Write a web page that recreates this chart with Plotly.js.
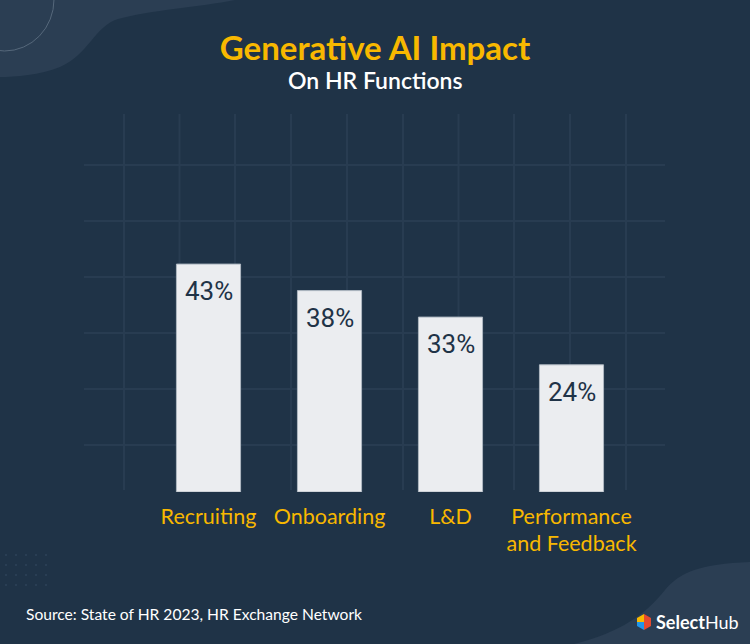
<!DOCTYPE html>
<html>
<head>
<meta charset="utf-8">
<script src="https://cdn.plot.ly/plotly-3.0.1.min.js"></script>
<style>
html,body{margin:0;padding:0;background:#1f3347;}
#chart{width:750px;height:644px;}
</style>
</head>
<body>
<div id="chart"></div>
<script>
// ---- data ----
const categories = ["Recruiting", "Onboarding", "L&D", "Performance<br>and Feedback"];
const values = [43, 38, 33, 24];
const valueLabels = ["43%", "38%", "33%", "24%"];
const titleText = "Generative AI Impact";
const subtitleText = "On HR Functions";
const sourceText = "Source: State of HR 2023, HR Exchange Network";

// ---- geometry helpers (figure pixels -> paper coords) ----
const FIG_W = 750, FIG_H = 644;
const M = {l: 148, r: 118, t: 227, b: 152};
const PW = FIG_W - M.l - M.r, PH = FIG_H - M.t - M.b;
const px = x => (x - M.l) / PW;
const py = y => (FIG_H - M.b - y) / PH;

const BG = "#1f3347";
const GRID = "#283c51";
const YELLOW = "#f8b800";

const shapes = [];
// top-left blob
shapes.push({type:"path", xref:"paper", yref:"paper", layer:"below",
  path:`M${px(0)},${py(0)} L${px(235)},${py(0)} C${px(200)},${py(7)} ${px(150)},${py(10)} ${px(118)},${py(19)} C${px(95)},${py(26)} ${px(88)},${py(55)} ${px(60)},${py(67)} C${px(40)},${py(75)} ${px(15)},${py(77)} ${px(0)},${py(77)} Z`,
  fillcolor:"#2b3e53", line:{width:0}});
// top-left circle outline
shapes.push({type:"circle", xref:"paper", yref:"paper", layer:"below",
  x0:px(-45), x1:px(54), y0:py(-52), y1:py(51),
  line:{color:"#56687b", width:1}});
// bottom-right blob
shapes.push({type:"path", xref:"paper", yref:"paper", layer:"below",
  path:`M${px(750)},${py(562)} C${px(700)},${py(564)} ${px(680)},${py(572)} ${px(665)},${py(590)} C${px(645)},${py(615)} ${px(620)},${py(633)} ${px(570)},${py(645)} L${px(750)},${py(645)} Z`,
  fillcolor:"#2b3e53", line:{width:0}});
// decorative grid
const vx = [124, 179.5, 235, 291, 347, 403, 458.5, 514, 570, 626];
vx.forEach(x => shapes.push({type:"line", xref:"paper", yref:"paper", layer:"below",
  x0:px(x), x1:px(x), y0:py(114), y1:py(490), line:{color:GRID, width:2}}));
const hy = [165, 221, 277, 333, 389, 445];
hy.forEach(y => shapes.push({type:"line", xref:"paper", yref:"paper", layer:"below",
  x0:px(84), x1:px(665), y0:py(y), y1:py(y), line:{color:GRID, width:2}}));
// dots bottom-left
[555,565,575,585].forEach(y => [6,16,26,36,46].forEach(x => shapes.push({type:"circle", xref:"paper", yref:"paper", layer:"below",
  x0:px(x-1), x1:px(x+1), y0:py(y+1), y1:py(y-1), fillcolor:"#2e4358", line:{width:0}})));
// logo icon
shapes.push({type:"path", xref:"paper", yref:"paper",
  path:`M${px(644)},${py(614)} L${px(651)},${py(618)} L${px(651)},${py(626)} L${px(644)},${py(630)} Z`, fillcolor:"#e64a2e", line:{width:0}});
shapes.push({type:"path", xref:"paper", yref:"paper",
  path:`M${px(644)},${py(614)} L${px(637)},${py(618)} L${px(637)},${py(622)} L${px(644)},${py(622)} Z`, fillcolor:"#f8b800", line:{width:0}});
shapes.push({type:"path", xref:"paper", yref:"paper",
  path:`M${px(637)},${py(622)} L${px(644)},${py(622)} L${px(644)},${py(630)} L${px(637)},${py(626)} Z`, fillcolor:"#2196e8", line:{width:0}});

const annotations = [];
categories.forEach((c, i) => annotations.push({
  x: c, y: values[i], xref:"x", yref:"y", text: valueLabels[i], showarrow:false,
  yanchor:"middle", yshift:-27,
  font:{family:"Roboto", size:26, color:"#1f3347", weight:400}
}));
annotations.push({x:px(375), y:py(80), xref:"paper", yref:"paper", text:subtitleText, showarrow:false,
  xanchor:"center", yanchor:"middle", font:{family:"Lato", size:23, color:"#ffffff", weight:600}});
annotations.push({x:px(24), y:py(614), xref:"paper", yref:"paper", text:sourceText, showarrow:false,
  xanchor:"left", yanchor:"middle", font:{family:"Lato", size:15.6, color:"#ffffff"}});
annotations.push({x:px(654), y:py(622), xref:"paper", yref:"paper", text:"<b>Select</b>Hub", showarrow:false,
  xanchor:"left", yanchor:"middle", font:{family:"Lato", size:18, color:"#ffffff"}});

const trace = {
  type:"bar", x: categories, y: values, width: 0.53,
  marker:{color:"#ebedf0", line:{color:"#aeb7c1", width:1}},
  hoverinfo:"none"
};

const layout = {
  width: FIG_W, height: FIG_H,
  margin: M,
  paper_bgcolor: BG, plot_bgcolor: "rgba(0,0,0,0)",
  showlegend:false,
  title:{text:titleText, x:0.5, xanchor:"center", xref:"container", y:1-48/FIG_H, yanchor:"middle", yref:"container",
    font:{family:"Lato", size:33, color:YELLOW, weight:700}},
  xaxis:{showgrid:false, zeroline:false, showline:false, ticks:"", ticklabelstandoff:9,
    tickfont:{family:"Lato", size:21.5, color:YELLOW}, range:[-0.5, 3.5], fixedrange:true},
  yaxis:{range:[0, 50], visible:false, fixedrange:true},
  shapes: shapes,
  annotations: annotations
};

Plotly.newPlot("chart", [trace], layout, {staticPlot:true, displayModeBar:false});
</script>
</body>
</html>
